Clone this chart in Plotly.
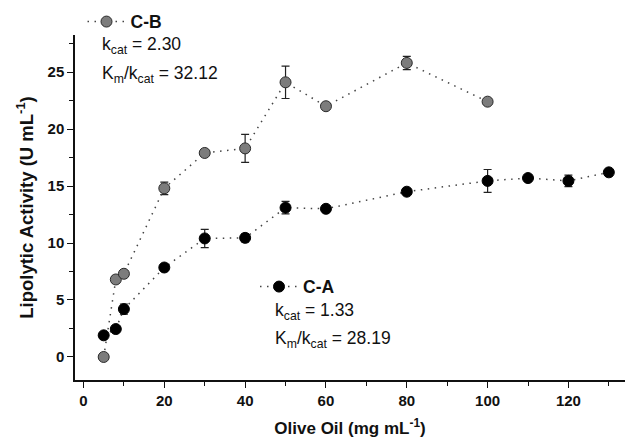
import plotly.graph_objects as go

# Olive oil concentration (mg/mL) and lipolytic activity (U/mL)
oil_cb = [5, 8, 10, 20, 30, 40, 50, 60, 80, 100]
act_cb = [0.0, 6.8, 7.3, 14.8, 17.9, 18.3, 24.1, 22.0, 25.8, 22.4]
err_cb = [0.15, 0.3, 0.2, 0.55, 0.2, 1.23, 1.42, 0.2, 0.58, 0.2]

oil_ca = [5, 8, 10, 20, 30, 40, 50, 60, 80, 100, 110, 120, 130]
act_ca = [1.9, 2.45, 4.2, 7.85, 10.4, 10.45, 13.1, 13.0, 14.5, 15.45, 15.7, 15.45, 16.2]
err_ca = [0.1, 0.1, 0.45, 0.1, 0.8, 0.35, 0.55, 0.1, 0.1, 1.0, 0.15, 0.5, 0.1]

x_ticks = [0, 20, 40, 60, 80, 100, 120]
y_ticks = [0, 5, 10, 15, 20, 25]

FONT = "Arial, Liberation Sans, sans-serif"
DOT = "1.5px,5.5px"

fig = go.Figure()

fig.add_trace(go.Scatter(
    x=oil_cb, y=act_cb, name="<b>C-B</b>", mode="lines+markers",
    line=dict(color="#444444", width=1.5, dash=DOT),
    marker=dict(size=11, color="#7c7c7c", line=dict(color="#2a2a2a", width=1)),
    error_y=dict(type="data", array=err_cb, color="#222222", thickness=1.2, width=4),
    legend="legend",
))
fig.add_trace(go.Scatter(
    x=oil_ca, y=act_ca, name="<b>C-A</b>", mode="lines+markers",
    line=dict(color="#444444", width=1.5, dash=DOT),
    marker=dict(size=11, color="#000000", line=dict(color="#000000", width=1)),
    error_y=dict(type="data", array=err_ca, color="#222222", thickness=1.2, width=4),
    legend="legend2",
))

W, H = 625, 438
ML, MR, MT, MB = 75, 0, 35, 58
PW, PH = W - ML - MR, H - MT - MB


def px_x(px):
    return (px - ML) / PW


def px_y(py):
    return (H - MB - py) / PH


ann_font = dict(family=FONT, size=17.5, color="#111111")
annotations = [
    dict(text="k<sub>cat</sub> = 2.30", x=px_x(100), y=px_y(46)),
    dict(text="K<sub>m</sub>/k<sub>cat</sub> = 32.12", x=px_x(100), y=px_y(74)),
    dict(text="k<sub>cat</sub> = 1.33", x=px_x(273), y=px_y(311)),
    dict(text="K<sub>m</sub>/k<sub>cat</sub> = 28.19", x=px_x(273), y=px_y(339)),
]
for a in annotations:
    a.update(xref="paper", yref="paper", xanchor="left", yanchor="middle",
             showarrow=False, font=ann_font)

axis_common = dict(
    showgrid=False, zeroline=False, showline=True, linecolor="#111111", linewidth=1.5,
    ticks="outside", ticklen=6, tickwidth=1.3, tickcolor="#111111",
    tickfont=dict(family=FONT, size=15, color="#111111", weight="bold"),
    mirror=False,
)

fig.update_layout(
    width=W, height=H,
    margin=dict(l=ML, r=MR, t=MT, b=MB),
    paper_bgcolor="white", plot_bgcolor="white",
    xaxis=dict(
        range=[-2.1, 134.0], tickvals=x_ticks,
        minor=dict(dtick=10, tick0=0, ticks="outside", ticklen=4, tickwidth=1.2, tickcolor="#111111"),
        title=dict(text="<b>Olive Oil (mg mL<sup>-1</sup>)</b>", font=dict(family=FONT, size=17, color="#111111"), standoff=14),
        **axis_common,
    ),
    yaxis=dict(
        range=[-2.02, 28.25], tickvals=y_ticks,
        minor=dict(dtick=2.5, tick0=0, ticks="outside", ticklen=4, tickwidth=1.2, tickcolor="#111111"),
        title=dict(text="<b>Lipolytic Activity (U mL<sup>-1</sup>)</b>", font=dict(family=FONT, size=18.5, color="#111111"), standoff=9),
        **axis_common,
    ),
    legend=dict(x=px_x(82.5), y=px_y(21.7), xanchor="left", yanchor="middle",
                bgcolor="rgba(0,0,0,0)", font=dict(family=FONT, size=17.5, color="#111111"),
                itemwidth=38),
    legend2=dict(x=px_x(255), y=px_y(286.7), xanchor="left", yanchor="middle",
                 bgcolor="rgba(0,0,0,0)", font=dict(family=FONT, size=17.5, color="#111111"),
                 itemwidth=38),
    annotations=annotations,
    showlegend=True,
)

fig.write_html("out.html")
